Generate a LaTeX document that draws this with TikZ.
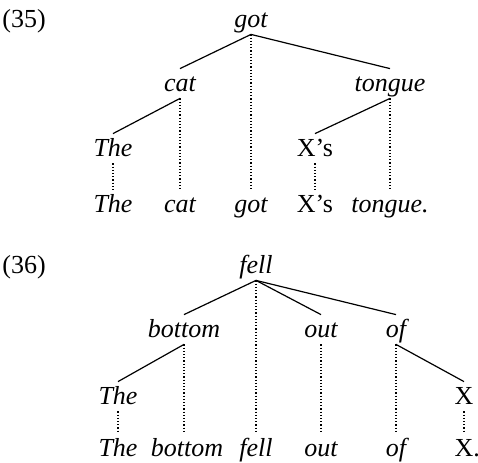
\documentclass[tikz,border=0pt]{standalone}
\usepackage{fontspec}
\setmainfont{Liberation Serif}

\begin{document}
\begin{tikzpicture}[
  x=0.5pt, y=-0.5pt,
  every node/.style={inner sep=0pt, anchor=base, text height=11pt, text depth=3.5pt, font=\fontsize{13}{15}\selectfont},
  wd/.style={font=\fontsize{13}{15}\selectfont\itshape},
  branch/.style={draw, line width=.6pt},
  proj/.style={draw, densely dotted, line width=.6pt}
]
\useasboundingbox (0,0) rectangle (478,462);

% (35)
\node (ex35) at (24,27) {(35)};
\node[wd] (got) at (251,27) {got};
\node[wd] (cat) at (180,91) {cat};
\node[wd] (tongue) at (390,91) {tongue};
\node[wd] (the) at (113,156) {The};
\node (xs) at (315,156) {X’s};
\node[wd] (w-the) at (113,212) {The};
\node[wd] (w-cat) at (180,212) {cat};
\node[wd] (w-got) at (251,212) {got};
\node (w-xs) at (315,212) {X’s};
\node[wd] (w-tongue) at (390,212) {tongue.};
\draw[branch] (got.south) -- (cat.north);
\draw[branch] (got.south) -- (tongue.north);
\draw[branch] (cat.south) -- (the.north);
\draw[branch] (tongue.south) -- (xs.north);
\foreach \n in {got,cat,tongue,the,xs}
  \draw[proj] (\n.south) -- (\n.south |- w-\n.north);

% (36)
\node (ex36) at (24,273) {(36)};
\node[wd] (fell) at (256,273) {fell};
\node[wd] (bottom) at (184,337) {bottom};
\node[wd] (out) at (321,337) {out};
\node[wd] (of) at (396,337) {of};
\node[wd] (the2) at (118,404) {The};
\node (x) at (464,404) {X};
\node[wd] (w-the2) at (118,456) {The};
\node[wd] (w-bottom) at (187,456) {bottom};
\node[wd] (w-fell) at (256,456) {fell};
\node[wd] (w-out) at (321,456) {out};
\node[wd] (w-of) at (396,456) {of};
\node[anchor=base west] (w-x) at (x.base west |- w-of.base) {X.};
\draw[branch] (fell.south) -- (bottom.north);
\draw[branch] (fell.south) -- (out.north);
\draw[branch] (fell.south) -- (of.north);
\draw[branch] (bottom.south) -- (the2.north);
\draw[branch] (of.south) -- (x.north);
\foreach \n in {fell,bottom,out,of,the2,x}
  \draw[proj] (\n.south) -- (\n.south |- w-\n.north);
\end{tikzpicture}
\end{document}
